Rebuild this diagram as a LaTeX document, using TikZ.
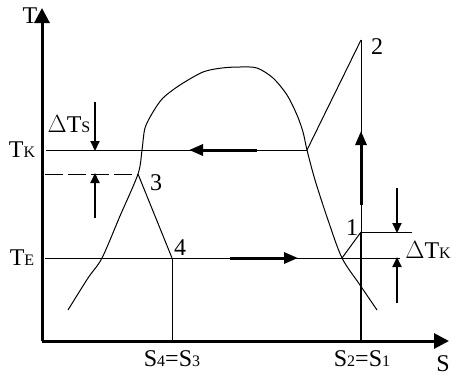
\documentclass[tikz,border=0pt]{standalone}
\usepackage{fontspec}
\setmainfont{Liberation Serif}
\usetikzlibrary{arrows.meta}
\newcommand\smsub[1]{{\fontsize{16}{16}\selectfont #1}}
\begin{document}
\begin{tikzpicture}[x=1pt,y=-1pt,
  thinline/.style={line width=1pt},
  axisline/.style={line width=3pt,-{Triangle[length=15pt,width=15pt]}},
  bigarrow/.style={line width=3pt,-{Triangle[length=14pt,width=11pt]}},
  smallarrow/.style={line width=2pt,-{Triangle[length=10pt,width=9pt]}},
  lbl/.style={font=\fontsize{24}{24}\selectfont, inner sep=0pt}]
\useasboundingbox (0,0) rectangle (452,381);
% key points
\coordinate (O) at (42,341);
\coordinate (Ttip) at (42,8);
\coordinate (Stip) at (449,341);
\coordinate (p1) at (361,232);
\coordinate (p2) at (361,40);
\coordinate (p3) at (138,174);
\coordinate (p4) at (172,258);
\coordinate (pk) at (307,150);
\coordinate (pe) at (342,258);
\coordinate (tkL) at (46,150);
\coordinate (t3L) at (45,174);
\coordinate (teL) at (45,258);
\coordinate (teR) at (400,258);
\coordinate (dkR) at (412,232);
\coordinate (s4) at (172,341);
\coordinate (s1) at (361,341);
% axes
\draw[axisline] (O) -- (Ttip);
\draw[axisline] (O) -- (Stip);
% isotherms
\draw[thinline] (tkL) -- (pk);
\draw[thinline, dash pattern=on 18pt off 5pt] (t3L) -- (p3);
\draw[thinline] (teL) -- (teR);
% cycle
\draw[thinline] (p3) -- (p4);
\draw[thinline] (p4) -- (s4);
\draw[thinline] (pk) -- (p2);
\draw[thinline] (p2) -- (p1);
\draw[line width=2pt] (p1) -- (s1);
\draw[thinline] (pe) -- (p1);
\draw[thinline] (p1) -- (dkR);
% saturation dome
\draw[thinline] plot[smooth, tension=0.5] coordinates {
 (68,310) (88,278) (102,258) (120,216) (138,174) (142,150) (145,128)
 (153,112) (163,98) (180,85) (203,72) (222,68) (240,67) (257,68) (273,78)
 (287,95) (297,115) (303,132) (307,150) (315,180) (328,220) (342,258)
 (360,285) (377,310)};
% flow arrows
\coordinate (a1s) at (257,150); \coordinate (a1e) at (189,150);
\coordinate (a2s) at (230,258); \coordinate (a2e) at (298,258);
\coordinate (a3s) at (361,205); \coordinate (a3e) at (361,131);
\draw[bigarrow] (a1s) -- (a1e);
\draw[bigarrow] (a2s) -- (a2e);
\draw[bigarrow] (a3s) -- (a3e);
% delta arrows
\coordinate (d1s) at (95,102); \coordinate (d1e) at (95,151);
\coordinate (d2s) at (95,218); \coordinate (d2e) at (95,173);
\coordinate (d3s) at (397,188); \coordinate (d3e) at (397,233);
\coordinate (d4s) at (397,303); \coordinate (d4e) at (397,257);
\draw[smallarrow] (d1s) -- (d1e);
\draw[smallarrow] (d2s) -- (d2e);
\draw[smallarrow] (d3s) -- (d3e);
\draw[smallarrow] (d4s) -- (d4e);
% labels
\node[lbl] (lT) at (30,16) {T};
\node[lbl] (lS) at (443,364) {S};
\node[lbl] (lTk) at (22,150) {T\smsub{K}};
\node[lbl] (lTe) at (22,258) {T\smsub{E}};
\node[lbl] (lDTs) at (69,124) {$\Delta$T\smsub{S}};
\node[lbl] (lDTk) at (428,250) {$\Delta$T\smsub{K}};
\node[lbl] (l1) at (352,228) {1};
\node[lbl] (l2) at (377,47) {2};
\node[lbl] (l3) at (156,183) {3};
\node[lbl] (l4) at (180,248) {4};
\node[lbl] (lS4) at (172,359) {S\smsub{4}=S\smsub{3}};
\node[lbl] (lS2) at (362,359) {S\smsub{2}=S\smsub{1}};
\end{tikzpicture}
\end{document}
